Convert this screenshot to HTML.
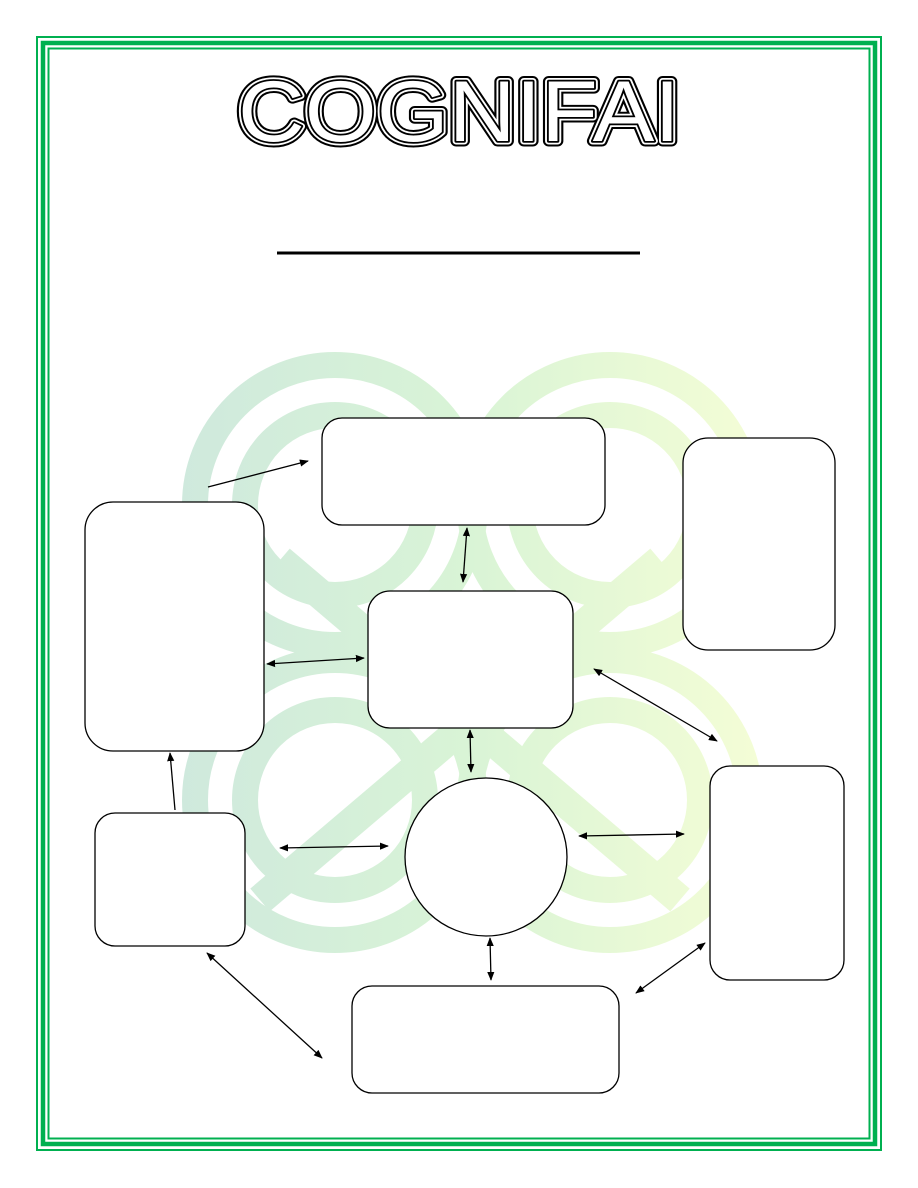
<!DOCTYPE html>
<html><head><meta charset="utf-8"><style>
html,body{margin:0;padding:0;background:#fff;width:918px;height:1188px;overflow:hidden}
svg{display:block}
</style></head><body>
<svg width="918" height="1188" viewBox="0 0 918 1188" xmlns="http://www.w3.org/2000/svg">
<defs>
<linearGradient id="g" x1="180" x2="760" y1="0" y2="0" gradientUnits="userSpaceOnUse">
<stop offset="0" stop-color="#cfe9dd"/><stop offset="0.5" stop-color="#d9f4d6"/><stop offset="1" stop-color="#f4fdd6"/>
</linearGradient>
<marker id="a" viewBox="0 0 10 10" refX="9" refY="5" markerWidth="9" markerHeight="9" orient="auto-start-reverse" markerUnits="userSpaceOnUse"><path d="M0,1 L10,5 L0,9 z" fill="#000"/></marker>
</defs>
<!-- border -->
<rect x="37" y="37" width="844" height="1113" fill="none" stroke="#00b050" stroke-width="2"/>
<rect x="43" y="43" width="832" height="1101" fill="none" stroke="#00b050" stroke-width="4.5"/>
<rect x="48.5" y="48.5" width="821" height="1090" fill="none" stroke="#00b050" stroke-width="2"/>
<!-- title -->
<g font-family="Liberation Sans, sans-serif" font-weight="normal" font-size="86" stroke-linejoin="round">
<text x="238" y="141" textLength="442" lengthAdjust="spacingAndGlyphs" fill="none" stroke="#000" stroke-width="11">COGNIFAI</text>
<text x="238" y="141" textLength="442" lengthAdjust="spacingAndGlyphs" fill="none" stroke="#fff" stroke-width="7">COGNIFAI</text>
<text x="238" y="141" textLength="442" lengthAdjust="spacingAndGlyphs" fill="none" stroke="#000" stroke-width="3.5">COGNIFAI</text>
<text x="238" y="141" textLength="442" lengthAdjust="spacingAndGlyphs" fill="#fff" stroke="none">COGNIFAI</text>
</g>
<line x1="277" y1="253" x2="640" y2="253" stroke="#000" stroke-width="3"/>
<!-- background logo -->
<g fill="none" stroke="url(#g)" stroke-width="26">
<circle cx="335" cy="505" r="140"/>
<circle cx="335" cy="505" r="90"/>
<circle cx="335" cy="800" r="140"/>
<circle cx="335" cy="800" r="90"/>
<circle cx="610" cy="505" r="140"/>
<circle cx="610" cy="505" r="90"/>
<circle cx="610" cy="800" r="140"/>
<circle cx="610" cy="800" r="90"/>
<line x1="280" y1="560" x2="680" y2="900" stroke-width="30"/>
<line x1="660" y1="560" x2="260" y2="900" stroke-width="30"/>
</g>
<!-- boxes -->
<g fill="#fff" stroke="#000" stroke-width="1.3">
<rect x="322" y="418" width="283" height="107" rx="20"/>
<rect x="683" y="438" width="152" height="212" rx="25"/>
<rect x="85" y="502" width="179" height="249" rx="28"/>
<rect x="368" y="591" width="205" height="137" rx="22"/>
<ellipse cx="486" cy="857" rx="81" ry="79"/>
<rect x="95" y="813" width="150" height="133" rx="20"/>
<rect x="710" y="766" width="134" height="214" rx="20"/>
<rect x="352" y="986" width="267" height="107" rx="20"/>
</g>
<!-- arrows -->
<g stroke="#000" stroke-width="1.3" fill="none">
<line x1="208" y1="487" x2="308" y2="461" marker-end="url(#a)"/>
<line x1="467" y1="528" x2="463" y2="582" marker-start="url(#a)" marker-end="url(#a)"/>
<line x1="267" y1="664" x2="364" y2="658" marker-start="url(#a)" marker-end="url(#a)"/>
<line x1="594" y1="669" x2="717" y2="741" marker-start="url(#a)" marker-end="url(#a)"/>
<line x1="470" y1="730" x2="471" y2="772" marker-start="url(#a)" marker-end="url(#a)"/>
<line x1="175" y1="810" x2="170" y2="753" marker-end="url(#a)"/>
<line x1="280" y1="848" x2="388" y2="846" marker-start="url(#a)" marker-end="url(#a)"/>
<line x1="579" y1="836" x2="684" y2="834" marker-start="url(#a)" marker-end="url(#a)"/>
<line x1="490" y1="938" x2="491" y2="980" marker-start="url(#a)" marker-end="url(#a)"/>
<line x1="207" y1="953" x2="322" y2="1058" marker-start="url(#a)" marker-end="url(#a)"/>
<line x1="636" y1="993" x2="705" y2="943" marker-start="url(#a)" marker-end="url(#a)"/>
</g>
</svg>
</body></html>
